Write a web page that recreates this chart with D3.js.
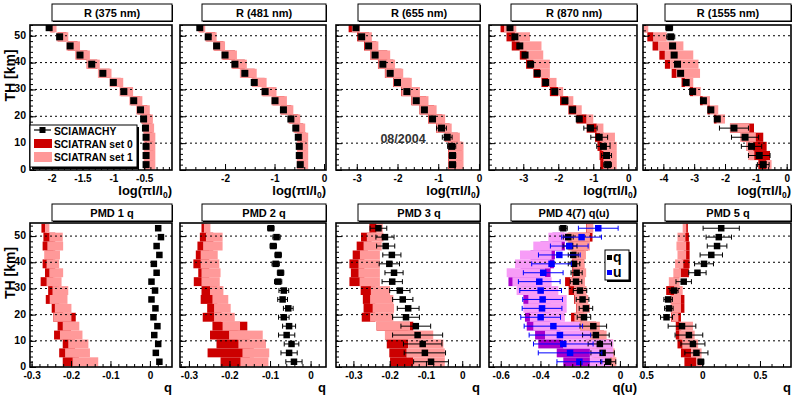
<!DOCTYPE html>
<html>
<head>
<meta charset="utf-8">
<script src="https://cdn.jsdelivr.net/npm/d3@7"></script>
<style>
  body { margin: 0; background: #fff; }
  svg text { font-family: "Liberation Sans", Arial, sans-serif; font-weight: bold; }
</style>
</head>
<body>
<script>
// tangent heights of the limb scan, top to bottom (km)
var TH = [53, 49.6, 46.2, 42.8, 39.4, 36, 32.6, 29.2, 25.8, 22.4, 19, 15.6, 12.2, 8.8, 5.4, 2];
var thTicks = [0, 10, 20, 30, 40, 50];

// ---- R (375 nm)
var r375Ticks = [-2, -1.5, -1, -0.5];
var r375Sci = [-2.04, -1.87, -1.70, -1.54, -1.35, -1.17, -1.00, -0.83, -0.67, -0.56, -0.51, -0.48, -0.47, -0.47, -0.47, -0.47];
var r375Err = [0.02, 0.02, 0.02, 0.02, 0.02, 0.02, 0.02, 0.02, 0.02, 0.02, 0.02, 0.02, 0.02, 0.02, 0.02, 0.02];
var r375Set0 = [[-2.02, -1.95], [-1.90, -1.76], [-1.74, -1.58], [-1.60, -1.42], [-1.42, -1.26], [-1.23, -1.06], [-1.04, -0.88], [-0.88, -0.72], [-0.72, -0.57], [-0.61, -0.45], [-0.54, -0.40], [-0.51, -0.37], [-0.50, -0.35], [-0.50, -0.35], [-0.50, -0.35], [-0.50, -0.35]];
var r375Set1 = [[-2.03, -1.92], [-1.92, -1.73], [-1.76, -1.54], [-1.62, -1.38], [-1.44, -1.22], [-1.25, -1.03], [-1.06, -0.84], [-0.90, -0.68], [-0.74, -0.53], [-0.63, -0.41], [-0.55, -0.36], [-0.52, -0.34], [-0.51, -0.32], [-0.51, -0.32], [-0.51, -0.32], [-0.51, -0.32]];

// ---- R (481 nm)
var r481Ticks = [-2, -1, 0];
var r481Sci = [-2.51, -2.34, -2.17, -2.00, -1.80, -1.60, -1.41, -1.19, -0.99, -0.82, -0.67, -0.57, -0.52, -0.50, -0.50, -0.48];
var r481Err = [0.02, 0.02, 0.02, 0.02, 0.02, 0.02, 0.02, 0.02, 0.02, 0.02, 0.02, 0.02, 0.02, 0.02, 0.02, 0.02];
var r481Set0 = [[-2.52, -2.42], [-2.38, -2.20], [-2.22, -2.03], [-2.05, -1.80], [-1.85, -1.60], [-1.68, -1.40], [-1.44, -1.20], [-1.24, -1.00], [-1.04, -0.80], [-0.87, -0.66], [-0.70, -0.52], [-0.60, -0.42], [-0.53, -0.36], [-0.53, -0.36], [-0.53, -0.36], [-0.53, -0.36]];
var r481Set1 = [[-2.54, -2.40], [-2.40, -2.17], [-2.24, -2.00], [-2.07, -1.76], [-1.87, -1.56], [-1.70, -1.36], [-1.46, -1.16], [-1.26, -0.96], [-1.06, -0.75], [-0.89, -0.62], [-0.72, -0.48], [-0.62, -0.38], [-0.55, -0.32], [-0.55, -0.32], [-0.55, -0.32], [-0.55, -0.32]];

// ---- R (655 nm)
var r655Ticks = [-3, -2, -1, 0];
var r655Sci = [-3.02, -2.88, -2.71, -2.55, -2.36, -2.18, -2.00, -1.77, -1.54, -1.34, -1.14, -0.92, -0.78, -0.67, -0.65, -0.65];
var r655Err = [0.02, 0.02, 0.02, 0.02, 0.02, 0.02, 0.02, 0.03, 0.03, 0.03, 0.04, 0.12, 0.12, 0.10, 0.08, 0.08];
var r655Set0 = [[-3.20, -3.00], [-2.99, -2.70], [-2.82, -2.52], [-2.67, -2.25], [-2.48, -2.10], [-2.31, -1.90], [-2.11, -1.70], [-1.91, -1.50], [-1.66, -1.30], [-1.46, -1.10], [-1.25, -0.90], [-1.05, -0.72], [-0.84, -0.52], [-0.76, -0.42], [-0.76, -0.42], [-0.76, -0.42]];
var r655Set1 = [[-3.12, -2.92], [-2.96, -2.63], [-2.80, -2.47], [-2.67, -2.18], [-2.47, -2.06], [-2.30, -1.86], [-2.10, -1.65], [-1.90, -1.45], [-1.65, -1.24], [-1.45, -1.04], [-1.24, -0.83], [-1.04, -0.67], [-0.83, -0.47], [-0.75, -0.38], [-0.75, -0.38], [-0.75, -0.38]];

// ---- R (870 nm)
var r870Ticks = [-3, -2, -1, 0];
var r870Sci = [-3.38, -3.24, -3.10, -2.95, -2.79, -2.60, -2.36, -2.10, -1.81, -1.59, -1.40, -1.08, -0.83, -0.71, -0.62, -0.59];
var r870Err = [0.03, 0.03, 0.03, 0.03, 0.03, 0.03, 0.03, 0.03, 0.04, 0.04, 0.05, 0.19, 0.24, 0.19, 0.14, 0.11];
var r870Set0 = [[-3.65, -3.48], [-3.48, -3.24], [-3.33, -3.10], [-3.10, -2.90], [-2.92, -2.71], [-2.71, -2.52], [-2.48, -2.29], [-2.24, -2.00], [-1.95, -1.71], [-1.71, -1.48], [-1.48, -1.19], [-1.19, -0.90], [-0.95, -0.70], [-0.88, -0.62], [-0.82, -0.58], [-0.80, -0.58]];
var r870Set1 = [[-3.55, -3.20], [-3.24, -2.81], [-3.10, -2.48], [-2.90, -2.43], [-2.71, -2.24], [-2.52, -2.24], [-2.29, -2.05], [-2.00, -1.86], [-1.71, -1.57], [-1.48, -1.33], [-1.19, -1.00], [-0.90, -0.71], [-0.81, -0.38], [-0.76, -0.33], [-0.71, -0.33], [-0.71, -0.33]];

// ---- R (1555 nm)
var r1555Ticks = [-4, -3, -2, -1, 0];
var r1555Sci = [-3.81, -3.76, -3.70, -3.65, -3.54, -3.44, -3.26, -3.05, -2.70, -2.46, -2.25, -1.71, -1.35, -1.14, -0.89, -0.76];
var r1555Err = [0.11, 0.13, 0.08, 0.08, 0.08, 0.06, 0.05, 0.05, 0.05, 0.05, 0.05, 0.47, 0.44, 0.33, 0.35, 0.19];
var r1555Set0 = [[-4.62, -4.52], [-4.52, -4.32], [-4.35, -4.16], [-4.13, -3.95], [-3.95, -3.78], [-3.73, -3.57], [-3.41, -3.30], [-3.14, -3.03], [-2.81, -2.72], [-2.57, -2.49], [-2.36, -2.27], [-1.84, -1.06], [-1.45, -0.76], [-1.30, -0.65], [-1.19, -0.54], [-0.92, -0.65]];
var r1555Set1 = [[-4.65, -4.49], [-4.32, -3.89], [-4.16, -3.35], [-3.95, -3.03], [-3.78, -2.86], [-3.57, -2.81], [-3.30, -3.03], [-3.03, -2.79], [-2.72, -2.49], [-2.49, -2.22], [-2.27, -2.00], [-1.84, -1.21], [-1.51, -1.00], [-1.30, -1.08], [-1.25, -1.05], [-0.65, -0.49]];

// ---- PMD 1 q
var pmd1Ticks = [-0.3, -0.2, -0.1, 0];
var pmd1Sci = [0.021, 0.028, 0.017, 0.024, 0.010, 0.017, 0.004, 0.013, 0.004, 0.014, 0.009, 0.019, 0.011, 0.021, 0.015, 0.024];
var pmd1Err = [0, 0, 0, 0, 0, 0, 0, 0, 0, 0, 0, 0, 0, 0, 0, 0];
var pmd1Set0 = [[-0.275, -0.262], [-0.270, -0.240], [-0.272, -0.245], [-0.265, -0.240], [-0.272, -0.245], [-0.266, -0.240], [-0.277, -0.245], [-0.258, -0.230], [-0.264, -0.230], [-0.249, -0.220], [-0.245, -0.188], [-0.234, -0.200], [-0.243, -0.200], [-0.221, -0.190], [-0.230, -0.190], [-0.221, -0.180]];
var pmd1Set1 = [[-0.266, -0.255], [-0.255, -0.221], [-0.260, -0.220], [-0.268, -0.228], [-0.262, -0.230], [-0.255, -0.220], [-0.262, -0.224], [-0.247, -0.207], [-0.254, -0.209], [-0.241, -0.199], [-0.245, -0.199], [-0.221, -0.179], [-0.228, -0.171], [-0.207, -0.156], [-0.215, -0.152], [-0.196, -0.131]];

// ---- PMD 2 q
var pmd2Ticks = [-0.3, -0.2, -0.1, 0];
var pmd2Sci = [-0.098, -0.084, -0.092, -0.080, -0.086, -0.074, -0.080, -0.066, -0.069, -0.055, -0.066, -0.053, -0.059, -0.047, -0.053, -0.041];
var pmd2Err = [0.008, 0.009, 0.008, 0.008, 0.009, 0.008, 0.009, 0.012, 0.012, 0.012, 0.013, 0.016, 0.020, 0.018, 0.020, 0.020];
var pmd2Set0 = [[-0.269, -0.255], [-0.273, -0.240], [-0.279, -0.240], [-0.283, -0.250], [-0.289, -0.250], [-0.277, -0.250], [-0.288, -0.250], [-0.269, -0.230], [-0.271, -0.230], [-0.255, -0.220], [-0.266, -0.220], [-0.242, -0.156], [-0.248, -0.180], [-0.232, -0.150], [-0.254, -0.140], [-0.222, -0.150]];
var pmd2Set1 = [[-0.263, -0.247], [-0.258, -0.217], [-0.265, -0.217], [-0.271, -0.229], [-0.271, -0.225], [-0.269, -0.222], [-0.269, -0.224], [-0.248, -0.215], [-0.242, -0.203], [-0.238, -0.197], [-0.238, -0.187], [-0.217, -0.174], [-0.201, -0.118], [-0.178, -0.110], [-0.168, -0.102], [-0.173, -0.104]];

// ---- PMD 3 q
var pmd3Ticks = [-0.3, -0.2, -0.1, 0];
var pmd3Sci = [-0.231, -0.213, -0.211, -0.194, -0.201, -0.188, -0.193, -0.172, -0.164, -0.149, -0.155, -0.128, -0.123, -0.109, -0.103, -0.086];
var pmd3Err = [0.023, 0.025, 0.025, 0.025, 0.028, 0.025, 0.028, 0.028, 0.028, 0.030, 0.037, 0.041, 0.069, 0.053, 0.057, 0.048];
var pmd3Set0 = [[-0.256, -0.236], [-0.279, -0.250], [-0.291, -0.260], [-0.302, -0.270], [-0.311, -0.270], [-0.307, -0.270], [-0.311, -0.270], [-0.280, -0.240], [-0.274, -0.240], [-0.272, -0.240], [-0.277, -0.240], [-0.236, -0.135], [-0.213, -0.150], [-0.208, -0.149], [-0.201, -0.153], [-0.199, -0.135]];
var pmd3Set1 = [[-0.236, -0.219], [-0.263, -0.217], [-0.272, -0.222], [-0.282, -0.227], [-0.286, -0.227], [-0.286, -0.227], [-0.283, -0.227], [-0.252, -0.199], [-0.254, -0.190], [-0.247, -0.188], [-0.254, -0.190], [-0.236, -0.144], [-0.213, -0.080], [-0.149, -0.052], [-0.153, -0.048], [-0.135, -0.048]];

// ---- PMD 4(7) q and u
var pmd4Ticks = [-0.6, -0.4, -0.2, 0];
var pmd4qSci = [-0.285, -0.260, -0.251, -0.235, -0.231, -0.218, -0.221, -0.201, -0.188, -0.171, -0.181, -0.134, -0.121, -0.101, -0.087, -0.059];
var pmd4qErr = [0.020, 0.025, 0.035, 0.025, 0.029, 0.028, 0.029, 0.034, 0.032, 0.034, 0.034, 0.067, 0.067, 0.059, 0.059, 0.038];
var pmd4qSet0 = [[-0.170, -0.150], [-0.260, -0.138], [-0.250, -0.160], [-0.240, -0.180], [-0.240, -0.180], [-0.240, -0.180], [-0.276, -0.200], [-0.258, -0.200], [-0.230, -0.190], [-0.220, -0.180], [-0.246, -0.190], [-0.200, -0.120], [-0.170, -0.080], [-0.150, -0.050], [-0.140, -0.040], [-0.130, -0.040]];
var pmd4qSet1 = [[-0.168, -0.134], [-0.270, -0.151], [-0.260, -0.151], [-0.243, -0.171], [-0.235, -0.178], [-0.235, -0.170], [-0.251, -0.176], [-0.231, -0.168], [-0.226, -0.159], [-0.218, -0.151], [-0.229, -0.165], [-0.201, -0.101], [-0.176, -0.067], [-0.151, -0.034], [-0.143, -0.026], [-0.134, -0.018]];
var pmd4uSci = [-0.109, -0.193, -0.255, -0.305, -0.344, -0.386, -0.406, -0.399, -0.389, -0.392, -0.399, -0.335, -0.302, -0.285, -0.251, -0.204];
var pmd4uErr = [0.100, 0.100, 0.095, 0.105, 0.100, 0.100, 0.105, 0.105, 0.100, 0.100, 0.100, 0.147, 0.155, 0.150, 0.160, 0.113];
var pmd4uSet0 = [null, [-0.340, -0.280], [-0.400, -0.277], [-0.450, -0.327], [-0.450, -0.332], [-0.500, -0.349], [-0.561, -0.400], [-0.500, -0.350], [-0.486, -0.350], [-0.470, -0.350], [-0.478, -0.350], [-0.469, -0.300], [-0.427, -0.300], [-0.411, -0.285], [-0.318, -0.151], [-0.285, -0.151]];
var pmd4uSet1 = [null, [-0.360, -0.268], [-0.436, -0.293], [-0.503, -0.344], [-0.528, -0.352], [-0.570, -0.377], [-0.541, -0.344], [-0.520, -0.310], [-0.461, -0.268], [-0.486, -0.268], [-0.453, -0.277], [-0.436, -0.201], [-0.377, -0.151], [-0.285, -0.034], [-0.151, -0.034], [-0.151, -0.050]];

// ---- PMD 5 q
var pmd5Ticks = [-0.5, 0, 0.5];
var pmd5Sci = [0.164, 0.143, 0.128, 0.078, 0.015, -0.042, -0.161, -0.245, -0.296, -0.290, -0.310, -0.176, -0.116, -0.081, -0.051, -0.012];
var pmd5Err = [0.157, 0.110, 0.085, 0.097, 0.082, 0.075, 0.067, 0.035, 0.037, 0.037, 0.052, 0.120, 0.120, 0.104, 0.100, 0.025];
var pmd5Set0 = [[-0.140, -0.125], [-0.160, -0.116], [-0.160, -0.110], [-0.160, -0.110], [-0.180, -0.110], [-0.200, -0.116], [-0.250, -0.200], [-0.313, -0.220], [-0.270, -0.155], [-0.270, -0.155], [-0.270, -0.185], [-0.230, -0.185], [-0.230, -0.180], [-0.215, -0.170], [-0.185, -0.096], [-0.155, -0.051]];
var pmd5Set1 = [[-0.170, -0.140], [-0.215, -0.146], [-0.224, -0.140], [-0.215, -0.140], [-0.236, -0.164], [-0.251, -0.185], [-0.290, -0.200], [-0.245, -0.170], [-0.275, -0.185], [-0.275, -0.185], [-0.266, -0.207], [-0.200, -0.081], [-0.200, -0.066], [-0.170, -0.036], [-0.096, -0.006], [-0.051, -0.006]];

var RED0 = "#cc0000", RED1 = "#ff9999", VIO0 = "#a800cc", VIO1 = "#f79cf7";

// layout
var width = 799, height = 398;
var cols = [[30, 172], [180, 326], [336, 480], [489, 637], [643, 791]];
var pads = [[0, 176], [176, 332], [332, 485], [485, 639], [639, 799]];
var rows = [
  { top: 25, bottom: 170, ymax: 54, titleY: 4, xTitleY: 194.5 },
  { top: 223, bottom: 367, ymax: 55, titleY: 204, xTitleY: 391.5 }
];
var binHalf = 1.7;

var panels = [
  { row: 0, col: 0, title: "R (375 nm)", xdom: [-2.35, -0.05], ticks: r375Ticks, minor: 0.1,
    boxes: [[r375Set0, RED0], [r375Set1, RED1]], series: [[r375Sci, r375Err, "#000"]] },
  { row: 0, col: 1, title: "R (481 nm)", xdom: [-2.91, 0.04], ticks: r481Ticks, minor: 0.2,
    boxes: [[r481Set0, RED0], [r481Set1, RED1]], series: [[r481Sci, r481Err, "#000"]] },
  { row: 0, col: 2, title: "R (655 nm)", xdom: [-3.51, 0.025], ticks: r655Ticks, minor: 0.2,
    boxes: [[r655Set0, RED0], [r655Set1, RED1]], series: [[r655Sci, r655Err, "#000"]] },
  { row: 0, col: 3, title: "R (870 nm)", xdom: [-3.98, 0.25], ticks: r870Ticks, minor: 0.2,
    boxes: [[r870Set0, RED0], [r870Set1, RED1]], series: [[r870Sci, r870Err, "#000"]] },
  { row: 0, col: 4, title: "R (1555 nm)", xdom: [-4.66, 0.14], ticks: r1555Ticks, minor: 0.2,
    boxes: [[r1555Set0, RED0], [r1555Set1, RED1]], series: [[r1555Sci, r1555Err, "#000"]] },
  { row: 1, col: 0, title: "PMD 1 q", xdom: [-0.304, 0.056], ticks: pmd1Ticks, minor: 0.02,
    boxes: [[pmd1Set0, RED0], [pmd1Set1, RED1]], series: [[pmd1Sci, pmd1Err, "#000"]] },
  { row: 1, col: 1, title: "PMD 2 q", xdom: [-0.322, 0.038], ticks: pmd2Ticks, minor: 0.02,
    boxes: [[pmd2Set0, RED0], [pmd2Set1, RED1]], series: [[pmd2Sci, pmd2Err, "#000"]] },
  { row: 1, col: 2, title: "PMD 3 q", xdom: [-0.348, 0.049], ticks: pmd3Ticks, minor: 0.02,
    boxes: [[pmd3Set0, RED0], [pmd3Set1, RED1]], series: [[pmd3Sci, pmd3Err, "#000"]] },
  { row: 1, col: 3, title: "PMD 4(7) q(u)", xdom: [-0.659, 0.086], ticks: pmd4Ticks, minor: 0.04, xTitle: "q(u)",
    boxes: [[pmd4qSet0, RED0], [pmd4qSet1, RED1], [pmd4uSet0, VIO0], [pmd4uSet1, VIO1]],
    series: [[pmd4qSci, pmd4qErr, "#000"], [pmd4uSci, pmd4uErr, "#0000ff"]] },
  { row: 1, col: 4, title: "PMD 5 q", xdom: [-0.514, 0.769], ticks: pmd5Ticks, minor: 0.1,
    boxes: [[pmd5Set0, RED0], [pmd5Set1, RED1]], series: [[pmd5Sci, pmd5Err, "#000"]] }
];

var svg = d3.select("body").append("svg")
  .attr("width", width)
  .attr("height", height);

var defs = svg.append("defs");
pads.forEach(function(p, i) {
  defs.append("clipPath").attr("id", "pad" + i)
    .append("rect").attr("x", p[0]).attr("y", 0).attr("width", p[1] - p[0]).attr("height", height);
});

function fmt(d) { return String(d); }

function drawPanel(p) {
  var c = cols[p.col], r = rows[p.row];
  var x = d3.scaleLinear().domain(p.xdom).range(c);
  var y = d3.scaleLinear().domain([0, r.ymax]).range([r.bottom, r.top]);

  var clipId = "frame" + p.row + "_" + p.col;
  defs.append("clipPath").attr("id", clipId)
    .append("rect").attr("x", c[0]).attr("y", r.top)
    .attr("width", c[1] - c[0]).attr("height", r.bottom - r.top);

  var pad = svg.append("g").attr("clip-path", "url(#pad" + p.col + ")");
  var plot = pad.append("g").attr("clip-path", "url(#" + clipId + ")");

  // SCIATRAN model ranges as boxes, one per tangent height
  p.boxes.forEach(function(b) {
    var rowsData = b[0].map(function(d, i) { return { d: d, h: TH[i] }; })
      .filter(function(o) { return o.d; });
    plot.append("g").selectAll("rect")
      .data(rowsData)
      .join("rect")
      .attr("x", function(o) { return x(o.d[0]); })
      .attr("width", function(o) { return x(o.d[1]) - x(o.d[0]); })
      .attr("y", function(o) { return y(o.h + binHalf); })
      .attr("height", function(o) { return y(o.h - binHalf) - y(o.h + binHalf); })
      .attr("fill", b[1]);
  });

  // dotted grid
  plot.append("g").selectAll("line")
    .data(thTicks.slice(1))
    .join("line")
    .attr("x1", c[0]).attr("x2", c[1])
    .attr("y1", function(d) { return y(d); })
    .attr("y2", function(d) { return y(d); })
    .attr("stroke", "#000")
    .attr("stroke-width", 1)
    .attr("stroke-dasharray", "2,3");

  // SCIAMACHY points with error bars
  p.series.forEach(function(s) {
    var pts = s[0].map(function(v, i) { return { v: v, e: s[1][i], h: TH[i] }; });
    var g = plot.append("g").attr("stroke", s[2]).attr("fill", s[2]);
    var eb = pts.filter(function(o) { return o.e > 0; });
    g.selectAll(".bar").data(eb).join("line").attr("class", "bar")
      .attr("x1", function(o) { return x(o.v - o.e); })
      .attr("x2", function(o) { return x(o.v + o.e); })
      .attr("y1", function(o) { return y(o.h); })
      .attr("y2", function(o) { return y(o.h); });
    [-1, 1].forEach(function(sg) {
      g.selectAll(".cap" + sg).data(eb).join("line").attr("class", "cap" + sg)
        .attr("x1", function(o) { return x(o.v + sg * o.e); })
        .attr("x2", function(o) { return x(o.v + sg * o.e); })
        .attr("y1", function(o) { return y(o.h) - 2.5; })
        .attr("y2", function(o) { return y(o.h) + 2.5; });
    });
    var ms = p.row === 0 ? 7 : 6.5;
    g.selectAll("rect").data(pts).join("rect")
      .attr("stroke", "none")
      .attr("x", function(o) { return x(o.v) - ms / 2; })
      .attr("y", function(o) { return y(o.h) - ms / 2; })
      .attr("width", ms).attr("height", ms);
  });

  // axes
  var minorVals = d3.range(Math.ceil(p.xdom[0] / p.minor), Math.floor(p.xdom[1] / p.minor) + 1)
    .map(function(k) { return k * p.minor; });
  pad.append("g")
    .attr("transform", "translate(0," + r.bottom + ")")
    .call(d3.axisBottom(x).tickValues(minorVals).tickSize(-3).tickFormat(""))
    .call(function(g) { g.select(".domain").remove(); });
  var xa = pad.append("g")
    .attr("transform", "translate(0," + r.bottom + ")")
    .call(d3.axisBottom(x).tickValues(p.ticks).tickSizeInner(-6).tickSizeOuter(0).tickPadding(4.5).tickFormat(fmt));
  xa.select(".domain").remove();
  xa.selectAll("text").attr("font-size", 10).attr("fill", "#000");

  var yMinor = d3.range(0, r.ymax + 0.01, 2);
  pad.append("g")
    .attr("transform", "translate(" + c[0] + ",0)")
    .call(d3.axisLeft(y).tickValues(yMinor).tickSize(-3).tickFormat(""))
    .call(function(g) { g.select(".domain").remove(); });
  var ya = pad.append("g")
    .attr("transform", "translate(" + c[0] + ",0)")
    .call(d3.axisLeft(y).tickValues(thTicks).tickSizeInner(-6).tickSizeOuter(0).tickPadding(4)
      .tickFormat(p.col === 0 ? fmt : ""));
  ya.select(".domain").remove();
  ya.selectAll("text").attr("font-size", 10.5).attr("fill", "#000").attr("y", -1);

  // frame
  pad.append("rect")
    .attr("x", c[0]).attr("y", r.top)
    .attr("width", c[1] - c[0]).attr("height", r.bottom - r.top)
    .attr("fill", "none").attr("stroke", "#000").attr("stroke-width", 1.6);

  // title box
  var tx = c[0] + 22;
  pad.append("rect").attr("x", tx + 1).attr("y", r.titleY + 1)
    .attr("width", c[1] - tx).attr("height", 17).attr("fill", "#000");
  pad.append("rect").attr("x", tx).attr("y", r.titleY)
    .attr("width", c[1] - tx).attr("height", 17)
    .attr("fill", "#fff").attr("stroke", "#000").attr("stroke-width", 1);
  pad.append("text").attr("x", (tx + c[1]) / 2).attr("y", r.titleY + 12.5)
    .attr("text-anchor", "middle").attr("font-size", 11).text(p.title);

  // x title
  var xt = pad.append("text").attr("x", c[1]).attr("y", r.xTitleY)
    .attr("text-anchor", "end").attr("font-size", 13);
  if (p.row === 0) {
    xt.append("tspan").text("log(\u03C0I/I");
    xt.append("tspan").attr("font-size", 8.5).attr("dy", 3).text("0");
    xt.append("tspan").attr("dy", -3).text(")");
  } else {
    xt.text(p.xTitle || "q");
  }

  // y title
  if (p.col === 0) {
    pad.append("text")
      .attr("transform", "translate(15," + ((r.top + r.bottom) / 2 - 22) + ") rotate(-90)")
      .attr("text-anchor", "middle").attr("font-size", 14).text("TH [km]");
  }
}

panels.forEach(drawPanel);

// legend of the first panel
var leg = svg.append("g");
leg.append("rect").attr("x", 32).attr("y", 127).attr("width", 107).attr("height", 42).attr("fill", "#000");
leg.append("rect").attr("x", 30).attr("y", 125).attr("width", 107).attr("height", 42)
  .attr("fill", "#fff").attr("stroke", "#000").attr("stroke-width", 1);
leg.append("line").attr("x1", 34).attr("x2", 51).attr("y1", 130).attr("y2", 130)
  .attr("stroke", "#000").attr("stroke-width", 1.2);
leg.append("rect").attr("x", 39.5).attr("y", 127).attr("width", 6).attr("height", 6).attr("fill", "#000");
leg.append("rect").attr("x", 34).attr("y", 139).attr("width", 18).attr("height", 9).attr("fill", RED0);
leg.append("rect").attr("x", 34).attr("y", 152).attr("width", 18).attr("height", 10).attr("fill", RED1);
var legText = ["SCIAMACHY", "SCIATRAN set 0", "SCIATRAN set 1"];
leg.selectAll("text").data(legText).join("text")
  .attr("x", 54)
  .attr("y", function(d, i) { return 134.5 + i * 13.3; })
  .attr("font-size", 10.3)
  .text(function(d) { return d; });

// legend of PMD 4
var leg4 = svg.append("g");
leg4.append("rect").attr("x", 607).attr("y", 252).attr("width", 24).attr("height", 30).attr("fill", "#000");
leg4.append("rect").attr("x", 605).attr("y", 250).attr("width", 24).attr("height", 30)
  .attr("fill", "#fff").attr("stroke", "#000").attr("stroke-width", 1);
var leg4Items = [["q", "#000"], ["u", "#0000ff"]];
leg4Items.forEach(function(it, i) {
  leg4.append("rect").attr("x", 607).attr("y", 255 + i * 15).attr("width", 5).attr("height", 5).attr("fill", it[1]);
  leg4.append("text").attr("x", 613).attr("y", 262 + i * 15).attr("font-size", 14).text(it[0]);
});

// date label
svg.append("text").attr("x", 403).attr("y", 143).attr("text-anchor", "middle")
  .attr("font-size", 12.5).attr("fill", "#333").text("08/2004");
</script>
</body>
</html>
